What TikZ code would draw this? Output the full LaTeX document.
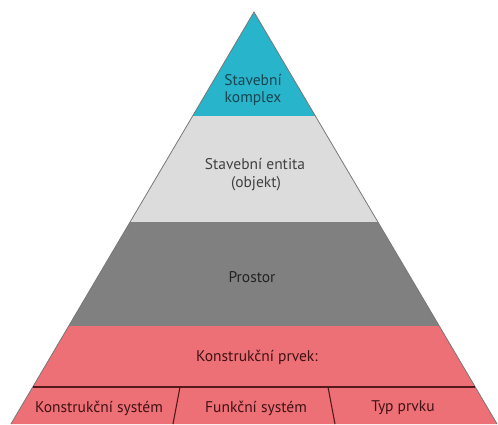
\documentclass[tikz,border=0pt]{standalone}
\usepackage{fontspec}
\setmainfont{PT Sans}
\definecolor{cyanband}{RGB}{40,180,202}
\definecolor{lightband}{RGB}{220,220,220}
\definecolor{darkband}{RGB}{128,128,128}
\definecolor{pinkband}{RGB}{236,112,118}
\definecolor{edgegray}{RGB}{120,120,120}
\definecolor{divline}{RGB}{85,25,28}
\definecolor{tealtext}{RGB}{25,70,82}
\definecolor{graytext}{RGB}{65,65,65}
\definecolor{darktext}{RGB}{35,35,35}
\definecolor{redtext}{RGB}{65,18,20}
\tikzset{
  lbl/.style={font=\fontsize{15.5}{17}\selectfont, align=center, inner sep=0pt},
  divider/.style={draw=divline, line width=1.1pt},
}
\begin{document}
\begin{tikzpicture}[x=1pt,y=-1pt]
\useasboundingbox (0,0) rectangle (498,424);
% key points on the sides
\coordinate (apex) at (254,12);
\coordinate (l1) at (192.6,116);   \coordinate (r1) at (315.4,116);
\coordinate (l2) at (130.1,222);   \coordinate (r2) at (377.9,222);
\coordinate (l3) at (68.7,326);    \coordinate (r3) at (439.3,326);
\coordinate (l4) at (32.75,387);   \coordinate (r4) at (475.25,387);
\coordinate (l5) at (10.9,424);    \coordinate (r5) at (497.1,424);
% bands
\fill[cyanband] (apex) -- (r1) -- (l1) -- cycle;
\fill[lightband] (l1) -- (r1) -- (r2) -- (l2) -- cycle;
\fill[darkband] (l2) -- (r2) -- (r3) -- (l3) -- cycle;
\fill[pinkband] (l3) -- (r3) -- (r5) -- (l5) -- cycle;
% outline
\draw[edgegray, line width=0.8pt] (l5) -- (apex) -- (r5);
% dividers
\coordinate (d1t) at (180,387); \coordinate (d1b) at (173,424);
\coordinate (d2t) at (328,387); \coordinate (d2b) at (335,424);
\draw[divider] (l4) -- (r4);
\draw[divider] (d1t) -- (d1b);
\draw[divider] (d2t) -- (d2b);
% labels
\node[lbl, text=tealtext] (komplex1) at (253,80) {Stavební};
\node[lbl, text=tealtext] (komplex2) at (253,99) {komplex};
\node[lbl, text=graytext] (entita1) at (255,164) {Stavební entita};
\node[lbl, text=graytext] (entita2) at (256,184) {(objekt)};
\node[lbl, text=darktext] (prostor) at (252,277) {Prostor};
\node[lbl, text=redtext] (prvek) at (257,357) {Konstrukční prvek:};
\node[lbl, text=redtext] (ksys) at (99,408) {Konstrukční systém};
\node[lbl, text=redtext] (fsys) at (256,408) {Funkční systém};
\node[lbl, text=redtext] (typ) at (403,408) {Typ prvku};
\end{tikzpicture}
\end{document}
